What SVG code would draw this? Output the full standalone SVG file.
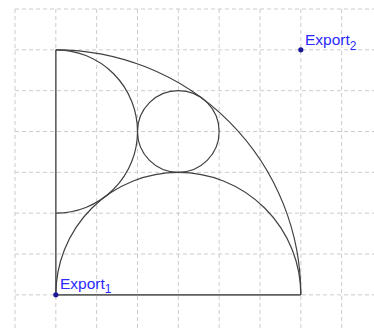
<svg xmlns="http://www.w3.org/2000/svg" width="374" height="331" viewBox="0 0 374 331">
<style>
.grid{stroke:#cccccc;stroke-width:1;stroke-dasharray:4,3;fill:none}
.shape{stroke:#404040;stroke-width:1.2;fill:none}
.seg{stroke:#606060;stroke-width:1.6;fill:none}
.pt{fill:#1a1a99}
.lbl{font-family:"Liberation Sans",Arial,sans-serif;font-size:15.5px;fill:#2a2aff}
.sub{font-size:12px}
</style>
<rect width="374" height="331" fill="#ffffff"/>
<g id="grid">
<line class="grid" x1="15" y1="9" x2="15" y2="331"/>
<line class="grid" x1="55.83" y1="9" x2="55.83" y2="331"/>
<line class="grid" x1="96.67" y1="9" x2="96.67" y2="331"/>
<line class="grid" x1="137.5" y1="9" x2="137.5" y2="331"/>
<line class="grid" x1="178.33" y1="9" x2="178.33" y2="331"/>
<line class="grid" x1="219.17" y1="9" x2="219.17" y2="331"/>
<line class="grid" x1="260" y1="9" x2="260" y2="331"/>
<line class="grid" x1="300.83" y1="9" x2="300.83" y2="331"/>
<line class="grid" x1="341.67" y1="9" x2="341.67" y2="331"/>
<line class="grid" x1="15" y1="9" x2="374" y2="9"/>
<line class="grid" x1="15" y1="49.83" x2="374" y2="49.83"/>
<line class="grid" x1="15" y1="90.67" x2="374" y2="90.67"/>
<line class="grid" x1="15" y1="131.5" x2="374" y2="131.5"/>
<line class="grid" x1="15" y1="172.33" x2="374" y2="172.33"/>
<line class="grid" x1="15" y1="213.17" x2="374" y2="213.17"/>
<line class="grid" x1="15" y1="254" x2="374" y2="254"/>
<line class="grid" x1="15" y1="294.83" x2="374" y2="294.83"/>
</g>
<g id="shapes">
<line class="seg" x1="55.83" y1="49.83" x2="55.83" y2="294.83"/>
<line class="seg" x1="55.83" y1="294.83" x2="300.83" y2="294.83"/>
<path class="shape" d="M55.83,49.83 A245,245 0 0 1 300.83,294.83"/>
<path class="shape" d="M55.83,294.83 A122.5,122.5 0 0 1 300.83,294.83"/>
<path class="shape" d="M55.83,49.83 A81.67,81.67 0 0 1 55.83,213.17"/>
<circle class="shape" cx="178.33" cy="131.5" r="40.83"/>
</g>
<g id="export1">
<circle class="pt" cx="55.83" cy="294.83" r="2.6"/>
<text class="lbl" x="60" y="289">Export<tspan class="sub" dy="4">1</tspan></text>
</g>
<g id="export2">
<circle class="pt" cx="300.83" cy="49.83" r="2.6"/>
<text class="lbl" x="305" y="45">Export<tspan class="sub" dy="5">2</tspan></text>
</g>
</svg>
